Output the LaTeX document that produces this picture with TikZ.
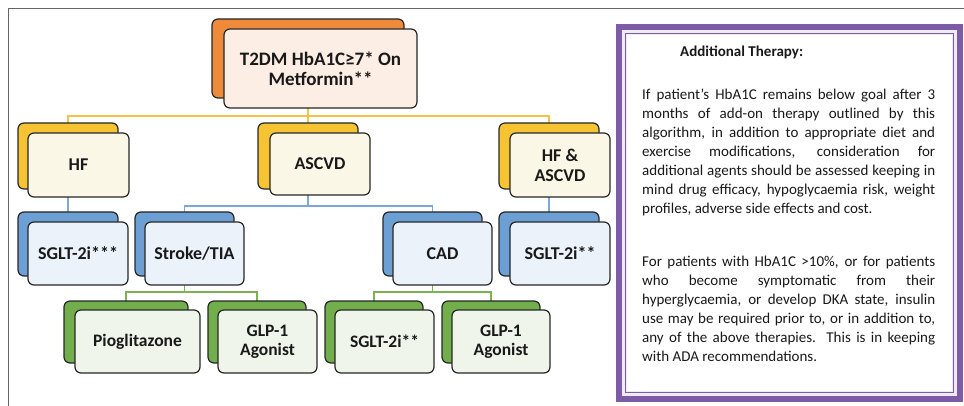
\documentclass[tikz,border=0pt]{standalone}
\usepackage{fontspec}
\setmainfont{Carlito}
\usetikzlibrary{backgrounds}
\definecolor{orgB}{RGB}{238,139,58}
\definecolor{ylwB}{RGB}{246,196,51}
\definecolor{bluB}{RGB}{108,159,212}
\definecolor{grnB}{RGB}{114,174,76}
\definecolor{orgF}{RGB}{252,238,228}
\definecolor{ylwF}{RGB}{251,247,231}
\definecolor{bluF}{RGB}{235,242,250}
\definecolor{grnF}{RGB}{239,245,235}
\definecolor{ylwL}{RGB}{245,194,67}
\definecolor{bluL}{RGB}{122,168,216}
\definecolor{grnL}{RGB}{121,180,81}
\definecolor{purp}{RGB}{126,91,166}
\definecolor{txt}{RGB}{25,25,25}
\begin{document}
\begin{tikzpicture}[x=1pt,y=-1pt,
  bk/.style={draw=black!85, line width=1.2pt, rounded corners=6pt, anchor=north west, inner sep=0pt, outer sep=0pt},
  fr/.style={bk, align=center, text=txt, font=\bfseries\fontsize{18}{20}\selectfont},
  frsmall/.style={fr, font=\bfseries\fontsize{17.5}{19}\selectfont},
  conn/.style={line width=1.7pt},
  para/.style={anchor=base west, inner sep=0pt, text width=293pt, align=justify, text=txt, font=\fontsize{15}{19}\selectfont}
]
\useasboundingbox (0,0) rectangle (964,406);
% frame
\draw[black!60, line width=0.9pt] (8,406) -- (8,8.5) -- (964,8.5);

% ---------- back boxes ----------
\node[bk, minimum width=192pt, minimum height=79pt, fill=orgB] (topB) at (212,19) {};
\node[bk, minimum width=100pt, minimum height=66pt, fill=ylwB] (hfB) at (18,123) {};
\node[bk, minimum width=100pt, minimum height=66pt, fill=ylwB] (ascB) at (258,123) {};
\node[bk, minimum width=100pt, minimum height=66pt, fill=ylwB] (hacB) at (499,123) {};
\node[bk, minimum width=100pt, minimum height=64pt, fill=bluB] (sg3B) at (18,212) {};
\node[bk, minimum width=99pt, minimum height=64pt, fill=bluB] (strB) at (135,212) {};
\node[bk, minimum width=99pt, minimum height=64pt, fill=bluB] (cadB) at (383,212) {};
\node[bk, minimum width=100pt, minimum height=64pt, fill=bluB] (sg2B) at (499,212) {};
\node[bk, minimum width=124pt, minimum height=62pt, fill=grnB] (pioB) at (64,301) {};
\node[bk, minimum width=98pt, minimum height=62pt, fill=grnB] (glaB) at (208,301) {};
\node[bk, minimum width=98pt, minimum height=62pt, fill=grnB] (sgcB) at (325,301) {};
\node[bk, minimum width=98pt, minimum height=62pt, fill=grnB] (glbB) at (442,301) {};

% ---------- front boxes ----------
\node[fr, minimum width=193pt, minimum height=79pt, fill=orgF, font=\bfseries\fontsize{19}{20}\selectfont] (top) at (224,29) {T2DM HbA1C≥7* On\\Metformin**};
\node[fr, minimum width=101pt, minimum height=64pt, fill=ylwF] (hf) at (28,133) {HF};
\node[fr, minimum width=100pt, minimum height=62pt, fill=ylwF] (asc) at (270,133) {ASCVD};
\node[fr, minimum width=100pt, minimum height=64pt, fill=ylwF] (hac) at (510,133) {HF \&\\ASCVD};
\node[fr, minimum width=100pt, minimum height=63pt, fill=bluF] (sg3) at (28,222) {SGLT-2i***};
\node[fr, minimum width=99pt, minimum height=63pt, fill=bluF] (str) at (145,222) {Stroke/TIA};
\node[fr, minimum width=99pt, minimum height=63pt, fill=bluF] (cad) at (393,222) {CAD};
\node[fr, minimum width=100pt, minimum height=63pt, fill=bluF] (sg2) at (510,222) {SGLT-2i**};
\node[frsmall, minimum width=125pt, minimum height=63pt, fill=grnF] (pio) at (75,310) {Pioglitazone};
\node[frsmall, minimum width=99pt, minimum height=63pt, fill=grnF] (gla) at (218,310) {GLP-1\\Agonist};
\node[frsmall, minimum width=99pt, minimum height=63pt, fill=grnF] (sgc) at (335,310) {SGLT-2i**};
\node[frsmall, minimum width=98pt, minimum height=63pt, fill=grnF] (glb) at (452,310) {GLP-1\\Agonist};

% ---------- connectors (behind the boxes) ----------
\begin{scope}[on background layer]
\coordinate (jy) at (topB.center |- 0,116);
\coordinate (jb) at (ascB.center |- 0,206);
\coordinate (jg1) at (strB.center |- 0,292);
\coordinate (jg2) at (cadB.center |- 0,292);
\draw[conn, ylwL] (topB.center) -- (ascB.north);
\draw[conn, ylwL] (hfB.north) |- (jy) -| (hacB.north);
\draw[conn, bluL] (hfB.center) -- (sg3B.north);
\draw[conn, bluL] (hacB.center) -- (sg2B.north);
\draw[conn, bluL] (ascB.center) -- (jb);
\draw[conn, bluL] (strB.north) |- (jb) -| (cadB.north);
\draw[conn, grnL] (strB.center) -- (jg1);
\draw[conn, grnL] (pioB.north) |- (jg1) -| (glaB.north);
\draw[conn, grnL] (cadB.center) -- (jg2);
\draw[conn, grnL] (sgcB.north) |- (jg2) -| (glbB.north);
\end{scope}

% ---------- additional therapy box ----------
\fill[purp] (616,24) rectangle (963,402);
\fill[purp!12] (622,30) rectangle (957,396);
\fill[white] (627,35) rectangle (952,391);
\draw[purp, line width=1.4pt] (625.5,33.5) rectangle (953.5,392.5);
\node[anchor=base west, inner sep=0pt, text=txt, font=\bfseries\fontsize{15}{19}\selectfont] (title) at (680,57) {Additional Therapy:};
\node[para] (p1) at (642,100) {\hyphenpenalty=10000
If patient’s HbA1C remains below goal after 3\linebreak
months of add-on therapy outlined by this\linebreak
algorithm, in addition to appropriate diet and\linebreak
exercise modifications, consideration for\linebreak
additional agents should be assessed keeping in\linebreak
mind drug efficacy, hypoglycaemia risk, weight\linebreak
profiles, adverse side effects and cost.};
\node[para] (p2) at (642,266) {\hyphenpenalty=10000
For patients with HbA1C >10\%, or for patients\linebreak
who become symptomatic from their\linebreak
hyperglycaemia, or develop DKA state, insulin\linebreak
use may be required prior to, or in addition to,\linebreak
any of the above therapies. This is in keeping\linebreak
with ADA recommendations.};
\end{tikzpicture}
\end{document}
